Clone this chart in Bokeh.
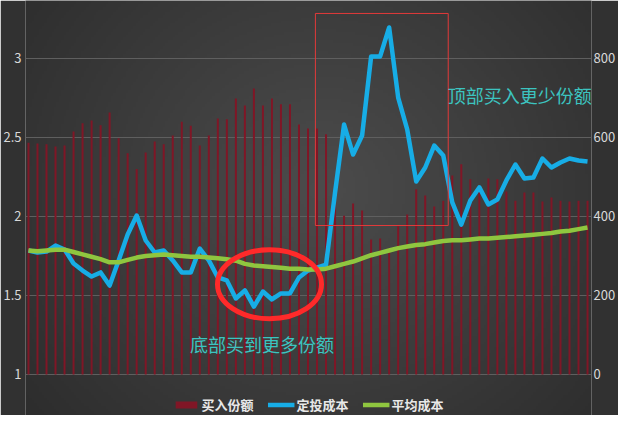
import numpy as np
from bokeh.embed import file_html
from bokeh.models import (BoxAnnotation, ColumnDataSource, FixedTicker, Label,
                          Legend, LegendItem, LinearAxis, NumeralTickFormatter, Range1d)
from bokeh.plotting import figure
from bokeh.resources import INLINE

# 买入份额 (right axis), 定投成本 and 平均成本 (left axis), one value per period
shares = [587, 585, 583, 577, 580, 615, 636, 643, 631, 663,
          598, 560, 520, 562, 590, 583, 605, 640, 630, 580,
          605, 648, 646, 699, 681, 724, 681, 699, 684, 684,
          633, 623, 623, 608, 480, 402, 433, 415, 342, 344,
          320, 375, 405, 469, 453, 425, 440, 504, 532, 494,
          473, 496, 494, 463, 440, 461, 461, 438, 448, 440,
          438, 440, 440]
dca_cost = [1.785, 1.772, 1.778, 1.816, 1.791, 1.703, 1.658, 1.620, 1.646, 1.563,
            1.722, 1.886, 2.006, 1.848, 1.772, 1.785, 1.722, 1.646, 1.646, 1.797,
            1.722, 1.614, 1.595, 1.481, 1.532, 1.430, 1.525, 1.475, 1.513, 1.513,
            1.614, 1.658, 1.677, 1.696, 2.152, 2.582, 2.392, 2.513, 3.013, 3.013,
            3.196, 2.753, 2.551, 2.222, 2.310, 2.449, 2.386, 2.089, 1.949, 2.101,
            2.184, 2.076, 2.108, 2.228, 2.329, 2.241, 2.247, 2.367, 2.310, 2.342,
            2.367, 2.354, 2.348]
avg_cost = [1.785, 1.780, 1.785, 1.790, 1.790, 1.775, 1.760, 1.745, 1.730, 1.710,
            1.710, 1.725, 1.740, 1.750, 1.755, 1.760, 1.755, 1.750, 1.745, 1.745,
            1.740, 1.735, 1.730, 1.720, 1.700, 1.690, 1.685, 1.680, 1.675, 1.670,
            1.670, 1.665, 1.665, 1.670, 1.685, 1.700, 1.715, 1.735, 1.755, 1.770,
            1.785, 1.800, 1.810, 1.820, 1.825, 1.835, 1.845, 1.850, 1.850, 1.855,
            1.860, 1.860, 1.865, 1.870, 1.875, 1.880, 1.885, 1.890, 1.895, 1.905,
            1.910, 1.920, 1.930]
periods = list(range(len(shares)))

left_ticks = [1, 1.5, 2, 2.5, 3]
right_ticks = [0, 200, 400, 600, 800]

FONT = "Noto Sans CJK SC"

src = ColumnDataSource(data=dict(x=periods, shares=shares, dca=dca_cost, avg=avg_cost))

x0, x1 = -0.33, 62.44
y0, y1 = 0.7405, 3.367
p = figure(width=618, height=415, output_backend="svg", toolbar_location=None,
           x_range=Range1d(x0, x1), y_range=Range1d(y0, y1),
           x_axis_location=None, min_border_left=24, min_border_right=24,
           min_border_top=0, min_border_bottom=0,
           border_fill_color="#313131", background_fill_color=None,
           outline_line_color=None)
p.extra_y_ranges = {"shares": Range1d((y0 - 1) * 400, (y1 - 1) * 400)}

# soft radial background behind the plot area (edges pushed outside the frame)
ny, nx = 160, 240
fy, fx = np.mgrid[0:ny, 0:nx]
fx = fx / (nx - 1)
fy = 1 - fy / (ny - 1)
d = np.sqrt(((fx - 0.52) / 0.78) ** 2 + ((fy - 0.46) / 0.98) ** 2)
g = (76 - 38 * np.clip(d, 0, 1)).astype(np.uint32)
img = (255 << 24) | (g << 16) | (g << 8) | g
pad_x, pad_y = 1.5, 0.1
p.image_rgba(image=[img.astype(np.uint32)], x=x0 - pad_x, y=y0 - pad_y,
             dw=x1 - x0 + 2 * pad_x, dh=y1 - y0 + 2 * pad_y, level="image")

p.xgrid.grid_line_color = None
p.ygrid.ticker = FixedTicker(ticks=left_ticks)
p.ygrid.grid_line_color = "#5f5f5f"
p.ygrid.grid_line_width = 1

bars = p.vbar(x="x", top="shares", bottom=0, width=0.22, y_range_name="shares",
              fill_color="#801626", line_color=None, source=src)
dca = p.line(x="x", y="dca", line_color="#17ade6", line_width=4.5, line_join="round", source=src)
avg = p.line(x="x", y="avg", line_color="#8fc63f", line_width=4.5, line_join="round", source=src)

p.yaxis[0].ticker = FixedTicker(ticks=left_ticks)
p.yaxis[0].formatter = NumeralTickFormatter(format="0.[0]")
p.yaxis[0].major_label_standoff = 4
right = LinearAxis(y_range_name="shares", ticker=FixedTicker(ticks=right_ticks))
right.major_label_standoff = 2
p.add_layout(right, "right")
for ax in [p.yaxis[0], right]:
    ax.axis_line_color = None
    ax.major_tick_line_color = None
    ax.minor_tick_line_color = None
    ax.major_tick_out = 0
    ax.major_tick_in = 0
    ax.minor_tick_out = 0
    ax.major_label_text_color = "#d9d9d9"
    ax.major_label_text_font = FONT
    ax.major_label_text_font_size = "13px"

# annotations
p.add_layout(BoxAnnotation(left=31.82, right=46.55, bottom=1.943, top=3.285,
                           fill_alpha=0, line_color="#e23a3a", line_alpha=1, line_width=1))
p.ellipse(x=[26.73], y=[1.571], width=104, height=69, width_units="screen",
          height_units="screen", fill_color=None, line_color="#ff2a2a", line_width=5)
for x, y, t in [(46.5, 2.772, "顶部买入更少份额"), (17.9, 1.19, "底部买到更多份额")]:
    p.add_layout(Label(x=x, y=y, text=t, text_baseline="middle", text_color="#3cc4c0",
                       text_font=FONT, text_font_size="18px"))

legend = Legend(items=[LegendItem(label="买入份额", renderers=[bars]),
                       LegendItem(label="定投成本", renderers=[dca]),
                       LegendItem(label="平均成本", renderers=[avg])],
                orientation="horizontal", location="bottom_center",
                background_fill_alpha=0, border_line_color=None,
                label_text_color="#e8e8e8", label_text_font=FONT,
                label_text_font_size="13px", label_text_font_style="bold",
                glyph_width=27, glyph_height=9, spacing=14, label_standoff=2,
                margin=1, padding=2)
p.add_layout(legend)

open("out.html", "w").write(file_html(p, INLINE))
